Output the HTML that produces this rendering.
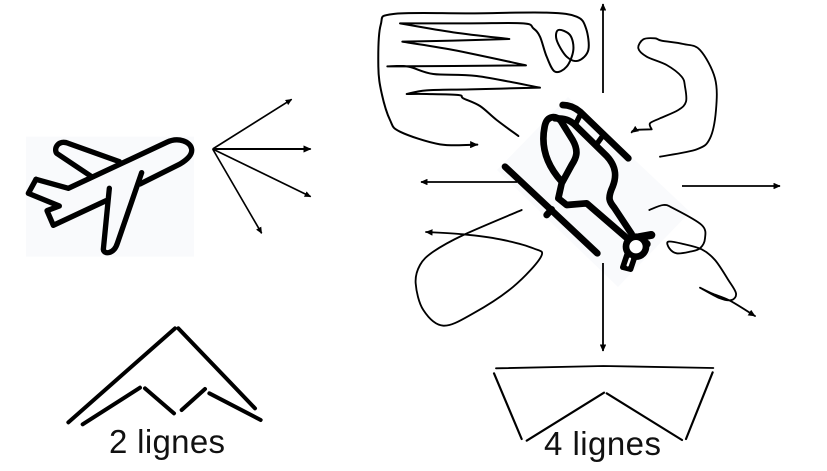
<!DOCTYPE html>
<html lang="fr">
<head>
<meta charset="utf-8">
<title>2 lignes / 4 lignes</title>
<style>
  html, body { margin: 0; padding: 0; background: #fff; }
  svg { display: block; }
  .ink { fill: none; stroke: #000; stroke-linecap: round; stroke-linejoin: round; }
  .label { font-family: "Liberation Sans", sans-serif; font-size: 33px; fill: #111; }
</style>
</head>
<body>
<svg xmlns="http://www.w3.org/2000/svg" width="827" height="471" viewBox="0 0 827 471">
  <defs>
    <marker id="head" markerWidth="4" markerHeight="3.6" refX="3.6" refY="1.8" orient="auto">
      <path d="M0 0L4 1.8L0 3.6z" fill="#000"/>
    </marker>
  </defs>
  <rect width="827" height="471" fill="#fff"/>

  <!-- Airplane + four arrows -->
  <g transform="translate(0,80) scale(0.33333)">
    <rect x="78" y="170" width="504" height="360" fill="#f9fafc"/>
    <g class="ink" stroke-width="16">
      <path d="M108 298L205 325L500 187C535 170 572 185 575 208C577 225 560 240 540 252L420 312"/>
      <path d="M425 278L352 490C342 522 312 525 310 508L328 325"/>
      <path d="M318 362L160 436L141 392L178 378L85 340L108 298"/>
      <path d="M358 245L205 190C175 178 160 205 170 220L275 290"/>
    </g>
    <g fill="none" stroke="#000">
      <line x1="638" y1="207" x2="875" y2="58" stroke-width="5" marker-end="url(#head)"/>
      <line x1="638" y1="207" x2="932" y2="207" stroke-width="6" marker-end="url(#head)"/>
      <line x1="638" y1="207" x2="932" y2="350" stroke-width="5" marker-end="url(#head)"/>
      <line x1="638" y1="207" x2="785" y2="460" stroke-width="5" marker-end="url(#head)"/>
    </g>
  </g>

  <!-- Helicopter -->
  <polygon points="568,97 690,212 618,287 497,170" fill="#f9fafc"/>
  <g class="ink" transform="translate(490,90) scale(0.33333)" stroke-width="20">
    <path d="M218 45Q245 45 270 65L415 205"/>
    <path d="M45 230L322 490"/>
    <path d="M170 375L185 358"/>
    <path d="M215 275C170 225 150 170 165 105C172 78 195 75 212 92L248 150C268 185 258 205 245 225L215 280L205 325L230 345L290 340L415 448"/>
    <path d="M195 85C225 85 240 90 255 105L350 198C380 230 380 260 368 290C352 325 358 335 372 352L425 432"/>
    <path d="M258 100L272 72" stroke-width="16"/>
    <path d="M322 160L342 132" stroke-width="16"/>
    <path d="M484 435L445 442L470 462" stroke-width="24"/>
    <path d="M412 490L398 532L422 538L436 496" stroke-width="16" fill="#000"/>
    <circle cx="438" cy="470" r="30" fill="#fff" stroke-width="20"/>
    <path d="M413 526L420 506" stroke="#fff" stroke-width="7"/>
  </g>

  <!-- Helicopter straight arrows -->
  <g fill="none" stroke="#000" stroke-width="1.8">
    <line x1="603" y1="93" x2="603" y2="4" marker-end="url(#head)"/>
    <line x1="603" y1="263" x2="603" y2="351" marker-end="url(#head)"/>
    <line x1="517" y1="182" x2="421" y2="182" marker-end="url(#head)"/>
    <line x1="682" y1="186" x2="780" y2="186" marker-end="url(#head)"/>
  </g>

  <!-- Freehand trajectories -->
  <g transform="translate(370,0) scale(0.33333)">
    <path class="ink freehand" stroke-width="6" marker-end="url(#head)"
      data-pts="445,408 380,360 330,318 280,295 265,285 170,282 110,282 110,282 170,271 300,268 510,263 510,263 320,228 190,222 115,200 52,199 52,199 250,198 468,196 468,196 250,150 97,125 97,125 250,122 418,117 418,117 250,97 90,70 90,70 300,70 460,70 490,85 510,110 530,170 555,215 590,200 610,150 600,105 565,90 560,120 590,170 625,182 655,150 648,85 620,50 530,38 300,40 70,42 32,75 25,200 35,280 60,360 90,395 210,433 322,434 322,434"/>
  </g>
  <g transform="translate(400,170) scale(0.33333)">
    <path class="ink freehand" stroke-width="5.5" marker-end="url(#head)"
      data-pts="365,120 190,195 100,245 60,285 47,340 70,420 130,467 220,430 340,350 423,260 400,235 300,208 190,193 78,186 78,186"/>
  </g>
  <g transform="translate(600,0) scale(0.33333)">
    <path class="ink freehand" stroke-width="5.5" marker-end="url(#head)"
      data-pts="180,470 290,448 330,415 348,330 345,235 300,150 250,132 185,122 165,115 130,118 115,145 140,170 200,195 245,230 255,260 258,305 235,330 180,355 150,370 155,388 155,388 105,390 95,397"/>
  </g>
  <g transform="translate(640,170) scale(0.33333)">
    <path class="ink freehand" stroke-width="5.5" marker-end="url(#head)"
      data-pts="28,120 70,105 100,115 185,165 195,205 180,235 150,245 110,250 88,235 85,215 130,222 185,238 225,270 265,330 288,370 275,390 240,385 180,353 180,353 215,370 270,392 345,438 345,438"/>
  </g>

  <!-- 2 lignes formation -->
  <g class="ink" transform="translate(50,315) scale(0.33333)" stroke-width="12">
    <line x1="55" y1="322" x2="375" y2="40"/>
    <line x1="385" y1="40" x2="615" y2="280"/>
    <line x1="98" y1="328" x2="270" y2="218"/>
    <line x1="285" y1="220" x2="372" y2="295"/>
    <line x1="395" y1="285" x2="465" y2="222"/>
    <line x1="478" y1="235" x2="632" y2="315"/>
  </g>
  <text class="label" x="109" y="453" textLength="116" lengthAdjust="spacing">2 lignes</text>

  <!-- 4 lignes formation -->
  <g class="ink" transform="translate(480,340) scale(0.33333)" stroke-width="6.5">
    <polyline points="48,85 370,78 700,84" stroke-width="5.5"/>
    <line x1="42" y1="100" x2="125" y2="297"/>
    <line x1="140" y1="302" x2="372" y2="158"/>
    <line x1="380" y1="160" x2="606" y2="300"/>
    <line x1="618" y1="297" x2="698" y2="97"/>
  </g>
  <text class="label" x="544" y="455" textLength="117" lengthAdjust="spacing">4 lignes</text>
</svg>
<script>
  // Turn each freehand stroke's sampled points into a smooth Catmull-Rom curve.
  // A repeated point marks a sharp corner: its zero-length segment is skipped.
  document.querySelectorAll('.freehand').forEach(function (el) {
    var p = el.getAttribute('data-pts').trim().split(/\s+/).map(function (s) {
      return s.split(',').map(Number);
    });
    var d = 'M' + p[0][0] + ' ' + p[0][1];
    for (var i = 0; i < p.length - 1; i++) {
      var a = p[Math.max(i - 1, 0)], b = p[i], c = p[i + 1], e = p[Math.min(i + 2, p.length - 1)];
      if (b[0] === c[0] && b[1] === c[1]) { continue; }
      d += 'C' + (b[0] + (c[0] - a[0]) / 6) + ' ' + (b[1] + (c[1] - a[1]) / 6) + ' ' +
           (c[0] - (e[0] - b[0]) / 6) + ' ' + (c[1] - (e[1] - b[1]) / 6) + ' ' + c[0] + ' ' + c[1];
    }
    el.setAttribute('d', d);
    el.removeAttribute('data-pts');
  });
</script>
</body>
</html>
